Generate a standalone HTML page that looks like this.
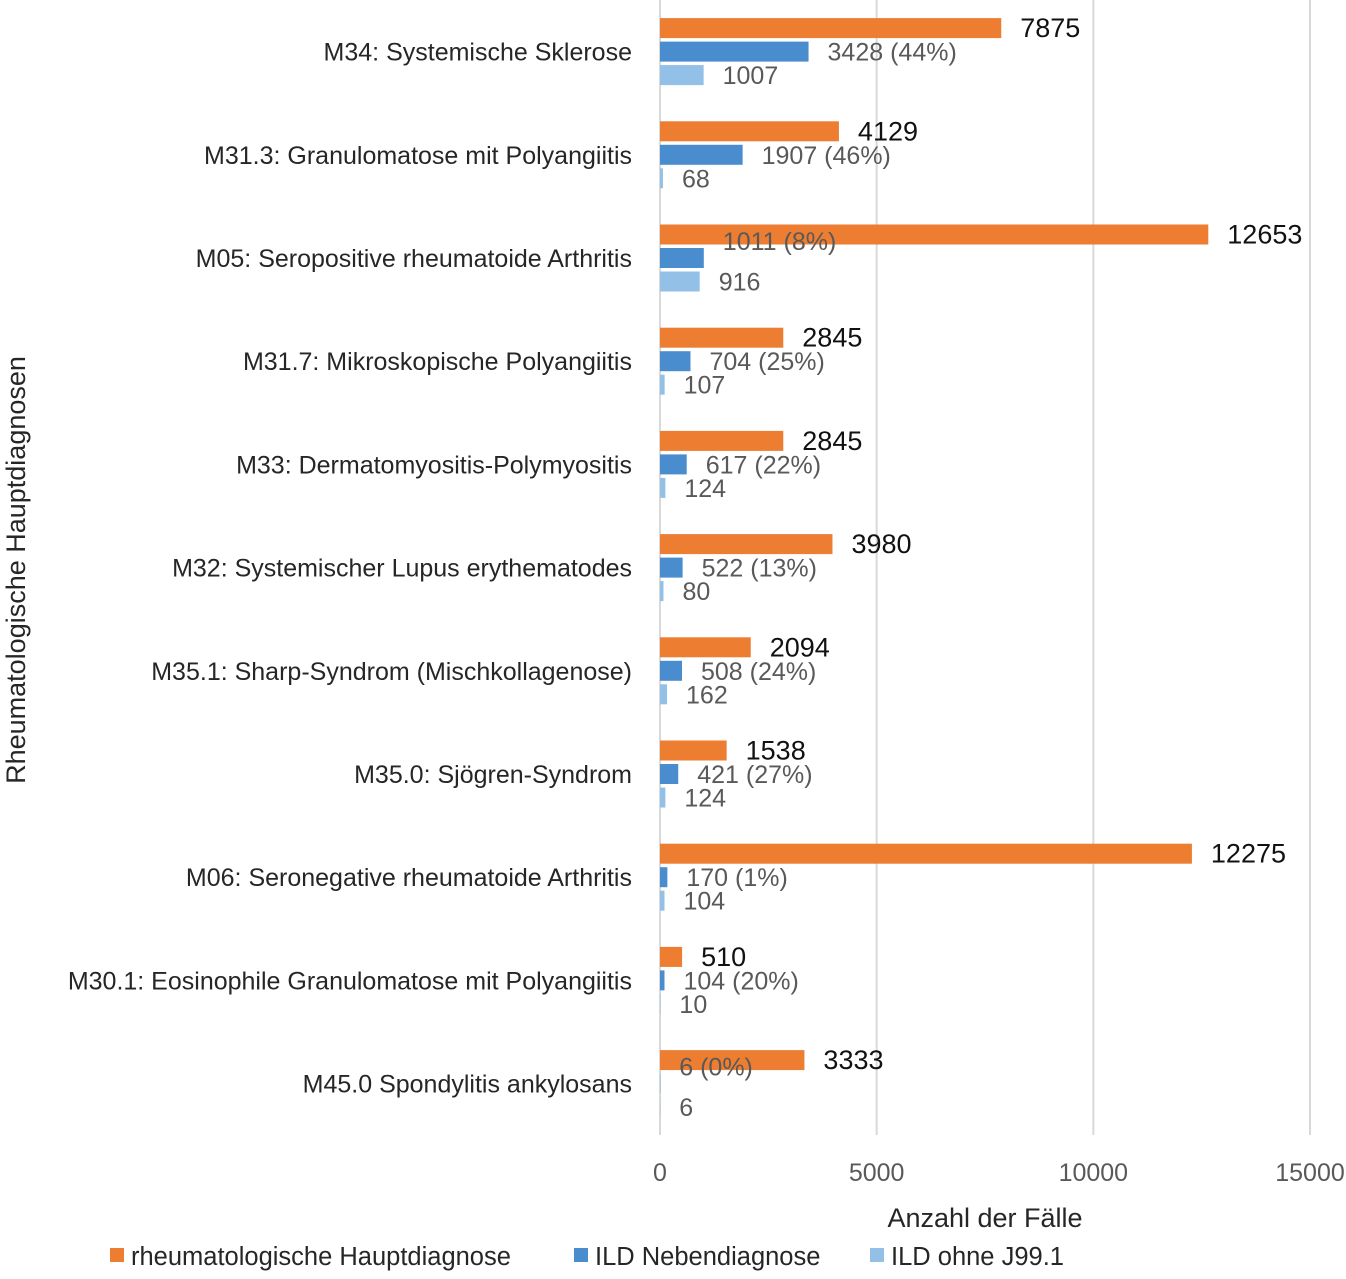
<!DOCTYPE html>
<html><head><meta charset="utf-8"><style>
html,body{margin:0;padding:0;background:#fff;}
svg text{font-family:"Liberation Sans",sans-serif;}
</style></head><body>
<svg id="chart" width="1346" height="1274" xmlns="http://www.w3.org/2000/svg"></svg>
<script>
const categories=["M34: Systemische Sklerose","M31.3: Granulomatose mit Polyangiitis","M05: Seropositive rheumatoide Arthritis","M31.7: Mikroskopische Polyangiitis","M33: Dermatomyositis-Polymyositis","M32: Systemischer Lupus erythematodes","M35.1: Sharp-Syndrom (Mischkollagenose)","M35.0: Sjögren-Syndrom","M06: Seronegative rheumatoide Arthritis","M30.1: Eosinophile Granulomatose mit Polyangiitis","M45.0 Spondylitis ankylosans"];
const hauptValues=[7875,4129,12653,2845,2845,3980,2094,1538,12275,510,3333];
const ildValues=[3428,1907,1011,704,617,522,508,421,170,104,6];
const ildPct=["44%","46%","8%","25%","22%","13%","24%","27%","1%","20%","0%"];
const ohneValues=[1007,68,916,107,124,80,162,124,104,10,6];
const ildLabelRaised=[false,false,true,false,false,false,false,false,false,false,true];
const xTicks=[0,5000,10000,15000];
const seriesNames=["rheumatologische Hauptdiagnose","ILD Nebendiagnose","ILD ohne J99.1"];
const colors=["#ED7D31","#4A8DCF","#92C0E6"];
const NS="http://www.w3.org/2000/svg";
const svgEl=document.getElementById('chart');
const x0=660,x1=1310,xMax=15000,plotTop=0,band=103.2;
const X=v=>x0+(v/xMax)*(x1-x0);
const Yc=i=>plotTop+band*(i+0.5);
function el(tag,attrs,text){const e=document.createElementNS(NS,tag);for(const k in attrs)e.setAttribute(k,attrs[k]);if(text!==undefined)e.textContent=text;svgEl.appendChild(e);return e;}
xTicks.forEach((t)=>{
  const g=el('line',{x1:X(t),x2:X(t),y1:0,y2:1135,stroke:'#d9d9d9','stroke-width':2});
  
  
  const tl=el('text',{x:X(t),y:1181,'text-anchor':'middle','font-size':25,fill:'#595959'},String(t));
  
  
});
const bh=20;
categories.forEach((c,i)=>{
  const yc=Yc(i);
  const cl=el('text',{x:632,y:yc+9,'text-anchor':'end','font-size':25,fill:'#262626'},c);
  
  
  const vals=[hauptValues[i],ildValues[i],ohneValues[i]];
  const labels=[String(hauptValues[i]),ildValues[i]+" ("+ildPct[i]+")",String(ohneValues[i])];
  vals.forEach((v,s)=>{
    const by=yc-bh/2+(s-1)*23.5;
    const r=el('rect',{x:x0,y:by,width:Math.max(0,X(v)-x0),height:bh,fill:colors[s]});
    
    
    let ly=by+bh/2+9;
    if(s===1 && ildLabelRaised[i]) ly-=17;
    const t=el('text',{x:X(v)+19,y:ly,'font-size':s===0?27:25,fill:s===0?'#111':'#595959'},labels[s]);
    
    
  });
});
const yt=el('text',{x:0,y:0,'text-anchor':'middle','font-size':27,fill:'#262626',transform:'translate(25,570) rotate(-90)'},'Rheumatologische Hauptdiagnosen');


const xt=el('text',{x:985,y:1227,'text-anchor':'middle','font-size':27,fill:'#262626'},'Anzahl der Fälle');


const legX=[110,574,870];
seriesNames.forEach((n,s)=>{
  const sq=el('rect',{x:legX[s],y:1248,width:14,height:14,fill:colors[s]});
  
  
  const t=el('text',{x:legX[s]+21,y:1265,'font-size':25.5,fill:'#262626'},n);
  
  
});
</script>
</body></html>
